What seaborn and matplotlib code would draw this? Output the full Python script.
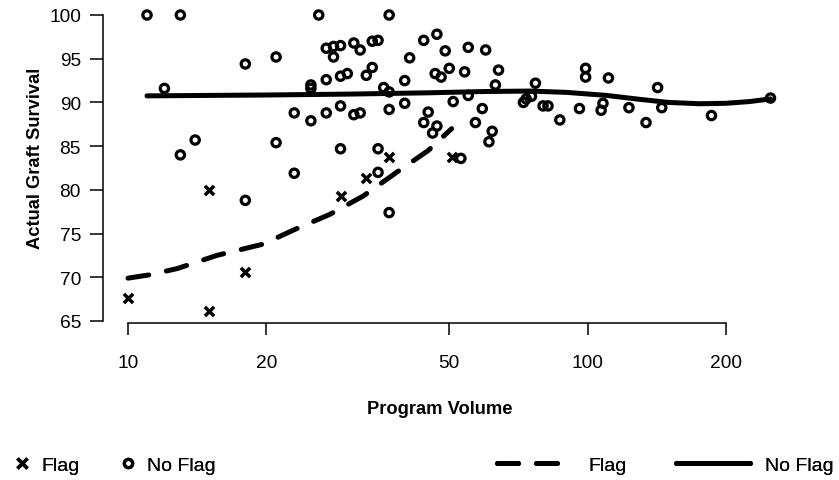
import numpy as np
import pandas as pd
import matplotlib
matplotlib.use("Agg")
import matplotlib.pyplot as plt
from matplotlib.lines import Line2D
import seaborn as sns

# ---------------- data ----------------
flag_volume = [10, 15, 15, 18, 29, 33, 37, 50.6]
flag_survival = [67.6, 80.0, 66.2, 70.6, 79.3, 81.4, 83.8, 83.8]

noflag_volume = [11, 13, 18, 21, 12, 14, 13, 21, 18,
                 26, 37, 27, 28, 29, 28, 31, 32, 34, 35, 41, 44, 47, 49, 55, 60,
                 34, 33, 30, 29, 27, 25, 25, 36, 37, 40, 46.6, 48, 50, 54, 64, 63,
                 23, 25, 27, 29, 31, 32, 37, 40, 45, 44, 47, 46, 51, 55, 57, 59, 62, 61,
                 29, 35, 35, 23, 37, 53,
                 72.5, 73.5, 75.5, 77, 80, 82, 87, 96, 99, 99, 108, 107, 111, 123,
                 134, 142, 145, 186, 250]
noflag_survival = [100, 100, 94.4, 95.2, 91.6, 85.7, 84.0, 85.4, 78.8,
                   100, 100, 96.2, 96.4, 96.5, 95.2, 96.8, 96.0, 97.0, 97.1, 95.1, 97.1, 97.8, 95.9, 96.3, 96.0,
                   94.0, 93.1, 93.3, 93.0, 92.6, 92.0, 91.6, 91.7, 91.2, 92.5, 93.3, 92.9, 93.9, 93.5, 93.7, 92.0,
                   88.8, 87.9, 88.8, 89.6, 88.6, 88.8, 89.2, 89.9, 88.9, 87.7, 87.3, 86.5, 90.1, 90.8, 87.7, 89.3, 86.7, 85.5,
                   84.7, 84.7, 82.0, 81.9, 77.4, 83.6,
                   90.0, 90.4, 90.7, 92.2, 89.6, 89.6, 88.0, 89.3, 93.9, 92.9, 89.9, 89.1, 92.8, 89.4,
                   87.7, 91.7, 89.4, 88.5, 90.5]

# smoothed curves
flag_curve_x = [10, 11.2, 12.8, 15.6, 19.7, 22.9, 27.5, 32.5, 38.4, 45, 50.6]
flag_curve_y = [69.9, 70.3, 71.0, 72.5, 73.8, 75.4, 77.2, 79.3, 82.0, 84.5, 87.0]
noflag_curve_x = [11, 20, 30, 45, 60, 75, 90, 110, 130, 150, 175, 200, 225, 250]
noflag_curve_y = [90.75, 90.85, 90.95, 91.1, 91.25, 91.3, 91.15, 90.8, 90.35, 90.0, 89.85, 89.9, 90.1, 90.4]

x_ticks = [10, 20, 50, 100, 200]
y_ticks = [65, 70, 75, 80, 85, 90, 95, 100]

# ---------------- figure ----------------
sns.set_theme(style="white")
plt.rcParams["font.family"] = ["Liberation Sans", "DejaVu Sans"]

W, H = 839, 481
fig = plt.figure(figsize=(W / 100, H / 100), dpi=100)
ax_l, ax_r, ax_t, ax_b = 103, 790, 5, 324
ax = fig.add_axes([ax_l / W, 1 - ax_b / H, (ax_r - ax_l) / W, (ax_b - ax_t) / H])

df_flag = pd.DataFrame({"vol": flag_volume, "surv": flag_survival})
df_noflag = pd.DataFrame({"vol": noflag_volume, "surv": noflag_survival})

sns.scatterplot(data=df_noflag, x="vol", y="surv", ax=ax, marker="o", s=36,
                facecolor="none", edgecolor="black", linewidth=2.3, clip_on=False, zorder=3)
sns.scatterplot(data=df_flag, x="vol", y="surv", ax=ax, marker="x", s=44,
                color="black", linewidth=2.5, clip_on=False, zorder=3)

sns.lineplot(x=flag_curve_x, y=flag_curve_y, ax=ax, color="black", lw=3.6,
             estimator=None, sort=False)
dash_line = ax.lines[-1]
dash_line.set_linestyle((0, (4.2, 3.6)))
dash_line.set_dash_capstyle("round")
sns.lineplot(x=noflag_curve_x, y=noflag_curve_y, ax=ax, color="black", lw=3.6,
             estimator=None, sort=False)
ax.lines[-1].set_solid_capstyle("round")

ax.set_xscale("log")
x_lo = 10 ** (1 - (128 - ax_l) / 459.6)
x_hi = 10 ** (1 + (ax_r - 128) / 459.6)
ax.set_xlim(x_lo, x_hi)
px_per_unit = (322 - 16) / 35.0
ax.set_ylim(65 - (ax_b - 322) / px_per_unit, 100 + (16 - ax_t) / px_per_unit)

ax.set_xticks(x_ticks)
ax.set_xticklabels([str(v) for v in x_ticks])
ax.minorticks_off()
ax.set_yticks(y_ticks)
ax.set_yticklabels([str(v) for v in y_ticks])

for s in ["top", "right"]:
    ax.spines[s].set_visible(False)
ax.spines["left"].set_bounds(65, 100)
ax.spines["bottom"].set_bounds(10, 200)
for s in ["left", "bottom"]:
    ax.spines[s].set_linewidth(1.1)
    ax.spines[s].set_color("black")

ax.tick_params(axis="y", length=9.4, width=1.1, pad=6.5, labelsize=13.8, colors="black", left=True)
ax.tick_params(axis="x", length=8.6, width=1.1, pad=13.5, labelsize=13.8, colors="black", bottom=True)

ax.set_xlabel("Program Volume", fontsize=13.2, fontweight="bold", color="black")
ax.set_ylabel("Actual Graft Survival", fontsize=13.2, fontweight="bold", color="black")
ax.xaxis.set_label_coords((440 - ax_l) / (ax_r - ax_l), (ax_b - 410) / (ax_b - ax_t))
ax.yaxis.set_label_coords((36 - ax_l) / (ax_r - ax_l), (ax_b - 158) / (ax_b - ax_t))
ax.xaxis.label.set_va("center")
ax.yaxis.label.set_va("center")

# ---------------- legends (bottom) ----------------
leg_y = 1 - 466 / H
fs = 14
em = fs * 100 / 72
common = dict(frameon=False, borderpad=0, borderaxespad=0, fontsize=fs,
              loc="center left", labelcolor="black")

h_x = Line2D([], [], marker="x", ls="none", color="black", ms=6.8, mew=2.5)
h_o = Line2D([], [], marker="o", ls="none", mfc="none", mec="black", ms=6.0, mew=2.3)
h_dash = Line2D([], [], color="black", lw=3.6, ls=(0, (4.2, 3.6)), dash_capstyle="round")
h_solid = Line2D([], [], color="black", lw=3.6, solid_capstyle="round")

fig.add_artist(fig.legend(handles=[h_x], labels=["Flag"],
                          bbox_to_anchor=((21.7 - em / 2) / W, leg_y),
                          handlelength=1.0, handletextpad=(41.7 - 21.7 - em / 2) / em, **common))
fig.add_artist(fig.legend(handles=[h_o], labels=["No Flag"],
                          bbox_to_anchor=((127.7 - em / 2) / W, leg_y),
                          handlelength=1.0, handletextpad=(146.7 - 127.7 - em / 2) / em, **common))
fig.add_artist(fig.legend(handles=[h_dash], labels=["Flag"], bbox_to_anchor=(497 / W, leg_y),
                          handlelength=3.2, handletextpad=1.5, **common))
fig.add_artist(fig.legend(handles=[h_solid], labels=["No Flag"], bbox_to_anchor=(676 / W, leg_y),
                          handlelength=3.8, handletextpad=0.8, **common))

fig.savefig("out.png", dpi=100)
